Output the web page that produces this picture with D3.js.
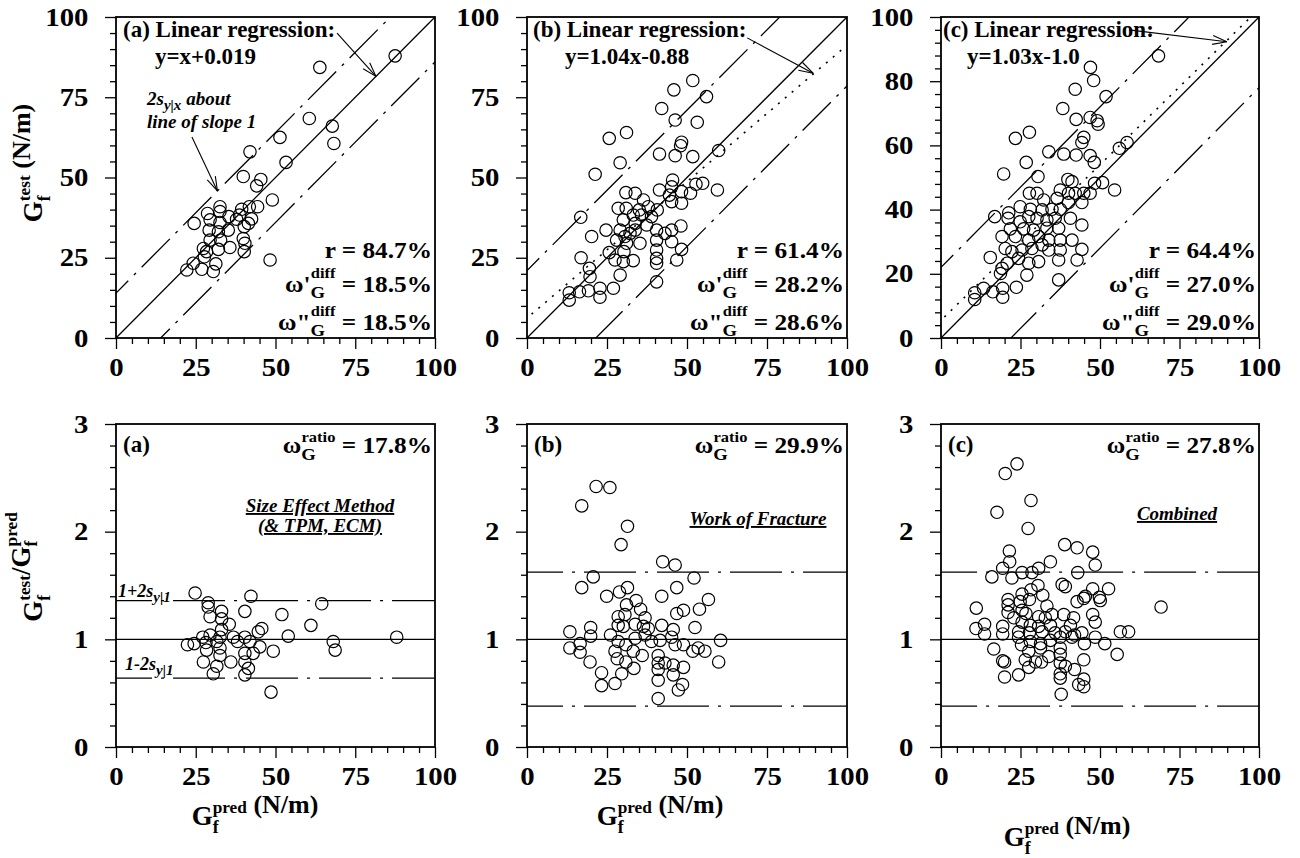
<!DOCTYPE html>
<html>
<head>
<meta charset="utf-8">
<script src="https://cdn.jsdelivr.net/npm/d3@7"></script>
<style>
body { margin: 0; background: #fff; }
text { font-family: "Liberation Serif", "Times New Roman", serif; font-weight: bold; fill: #000; }
</style>
</head>
<body>
<script>
// values
// top row: G_test vs G_pred (N/m)
var diffA = [[87.5,87.9],[63.9,84.3],[60.6,68.4],[67.8,66.0],[68.3,60.6],[51.4,62.5],[42.0,58.0],[53.3,54.7],[39.9,50.3],[45.4,49.4],[44.1,47.4],[49.0,43.0],[24.5,35.7],[28.7,38.8],[32.6,40.9],[32.6,39.4],[35.4,37.8],[37.8,37.0],[39.4,40.1],[41.8,40.9],[44.4,40.9],[42.5,37.1],[29.5,36.8],[29.2,33.6],[32.6,36.0],[32.1,33.1],[35.2,33.6],[40.2,34.7],[39.9,31.0],[40.4,29.5],[29.5,30.5],[32.8,30.5],[27.4,27.9],[28.4,26.9],[32.1,27.6],[35.7,28.2],[27.7,25.3],[40.2,26.9],[24.2,23.3],[22.2,21.2],[26.9,21.4],[30.5,20.7],[31.3,23.1],[48.3,24.3],[41.5,35.7],[38.7,38.3]];

var diffB = [[51.8,80.2],[45.9,77.3],[56.1,75.2],[42.1,71.5],[46.3,67.9],[53.2,67.2],[31.1,64.0],[25.7,62.2],[48.3,61.0],[48.0,59.9],[59.9,58.4],[41.4,57.3],[46.3,56.8],[51.8,56.5],[29.1,54.6],[21.3,51.0],[45.5,49.2],[41.4,46.1],[45.2,47.1],[48.3,45.6],[51.1,45.1],[52.8,47.9],[54.9,48.2],[59.5,46.1],[44.5,44.5],[45.2,42.5],[48.3,42.0],[30.9,45.3],[33.8,45.1],[36.4,43.0],[37.9,40.9],[35.1,39.9],[40.7,39.9],[28.5,40.4],[31.0,40.4],[33.2,38.3],[35.8,38.3],[38.9,37.8],[30.1,36.8],[33.8,35.7],[29.1,33.6],[32.2,32.6],[33.8,33.6],[37.4,35.2],[24.7,33.6],[20.2,31.6],[28.0,30.5],[31.1,29.5],[35.3,29.5],[40.5,33.6],[40.5,30.5],[40.5,27.4],[40.5,24.8],[40.5,23.3],[45.2,33.6],[48.1,34.9],[45.2,30.0],[48.3,27.6],[46.8,24.3],[43.1,32.6],[25.7,26.6],[27.5,24.3],[30.1,23.8],[33.2,24.1],[30.3,26.9],[29.1,19.6],[27.0,15.5],[22.8,15.5],[22.8,12.7],[19.5,21.7],[19.7,19.1],[19.2,14.7],[16.9,25.0],[16.8,37.6],[16.4,14.4],[13.2,14.1],[13.2,11.8],[40.5,17.5],[30.6,31.6]];

var diffC = [[68.4,87.9],[47.0,84.3],[48.0,80.2],[42.2,77.5],[51.9,75.2],[38.3,71.5],[42.5,68.1],[46.9,68.7],[49.1,67.7],[49.4,66.6],[23.4,62.2],[27.8,64.1],[44.9,62.5],[44.3,60.9],[58.5,60.9],[56.1,59.1],[33.9,58.0],[38.6,57.3],[42.5,57.0],[46.9,56.8],[48.2,54.7],[26.8,54.7],[19.7,51.1],[30.5,50.3],[39.9,49.4],[41.2,48.7],[48.3,48.2],[50.8,48.4],[54.6,46.1],[37.5,46.1],[40.1,45.1],[42.2,45.1],[44.9,45.1],[46.9,45.1],[27.8,45.1],[30.2,45.1],[32.3,43.0],[36.5,43.5],[40.1,42.2],[44.3,42.2],[21.3,39.0],[24.9,40.9],[28.1,40.1],[31.8,39.9],[34.9,40.1],[37.5,40.1],[16.9,37.8],[21.1,37.3],[24.9,36.2],[27.6,37.8],[30.2,37.3],[33.3,36.8],[35.9,37.3],[40.7,37.3],[44.3,35.2],[21.8,34.0],[26.0,34.0],[29.1,33.6],[33.3,34.2],[37.0,34.2],[19.2,31.6],[23.4,31.6],[27.6,30.5],[30.7,31.6],[33.9,30.5],[37.5,30.5],[41.2,30.5],[20.2,27.9],[22.3,26.9],[25.5,27.4],[28.6,27.9],[31.8,29.0],[33.9,27.4],[37.5,27.4],[44.3,27.6],[15.5,25.1],[24.4,24.8],[27.6,23.3],[30.7,23.8],[37.0,24.3],[42.8,24.3],[19.2,21.7],[27.0,19.6],[37.0,18.1],[18.7,20.1],[13.4,15.5],[16.3,14.4],[10.6,14.1],[10.6,12.0],[19.4,15.5],[19.4,12.7],[23.7,15.8],[20.8,23.3]];

// bottom row: G_test / G_pred vs G_pred
var ratioA = [[24.8,1.43],[28.9,1.34],[28.9,1.30],[29.5,1.21],[33.1,1.26],[33.1,1.19],[40.4,1.26],[42.3,1.40],[52.0,1.23],[64.5,1.33],[61.1,1.13],[45.7,1.10],[44.6,1.07],[54.0,1.03],[68.1,0.98],[68.7,0.90],[88.0,1.02],[49.3,0.89],[48.6,0.51],[22.4,0.95],[24.5,0.96],[27.2,1.02],[28.2,0.97],[28.4,0.90],[31.6,0.98],[32.6,0.92],[35.5,1.14],[33.1,1.09],[32.6,1.02],[36.8,1.02],[38.1,0.98],[40.4,1.02],[42.0,0.98],[45.1,0.93],[43.0,0.87],[40.4,0.87],[40.4,0.79],[41.5,0.73],[40.4,0.67],[36.0,0.79],[27.4,0.79],[31.6,0.75],[30.5,0.68],[32.6,0.85],[29.5,1.04]];

var ratioB = [[21.6,2.42],[25.9,2.41],[17.1,2.24],[31.4,2.05],[29.4,1.88],[42.4,1.72],[46.3,1.69],[20.7,1.58],[52.2,1.57],[17.1,1.48],[31.4,1.48],[28.9,1.44],[46.8,1.48],[24.9,1.40],[42.1,1.40],[56.7,1.37],[31.1,1.32],[34.1,1.36],[35.5,1.28],[48.9,1.27],[46.8,1.24],[53.9,1.28],[36.9,1.20],[28.5,1.21],[30.6,1.23],[28.5,1.13],[30.1,1.12],[33.8,1.14],[36.4,1.12],[37.9,1.10],[42.1,1.13],[45.7,1.09],[52.5,1.11],[13.4,1.07],[19.9,1.11],[19.9,1.03],[26.1,1.04],[28.5,0.98],[30.9,0.95],[33.8,1.01],[36.9,1.04],[38.9,0.98],[41.6,0.99],[45.2,1.02],[46.3,0.95],[48.9,0.95],[53.5,0.92],[60.5,0.99],[13.4,0.92],[16.6,0.96],[16.6,0.88],[27.5,0.89],[28.2,0.82],[30.9,0.79],[33.2,0.89],[36.0,0.85],[33.4,0.73],[29.6,0.68],[41.0,0.85],[41.0,0.78],[41.0,0.72],[41.0,0.62],[41.0,0.45],[43.1,0.78],[45.7,0.76],[48.9,0.74],[45.7,0.67],[48.6,0.58],[47.3,0.53],[51.8,0.89],[55.6,0.89],[59.9,0.79],[19.7,0.79],[23.3,0.69],[23.3,0.57],[27.5,0.59]];

var ratioC = [[23.9,2.63],[20.2,2.54],[28.3,2.29],[17.6,2.18],[27.4,2.03],[38.9,1.88],[42.8,1.85],[47.7,1.81],[21.5,1.82],[21.6,1.72],[34.4,1.72],[48.5,1.69],[19.4,1.66],[30.7,1.66],[25.5,1.62],[28.6,1.62],[43.0,1.62],[16.0,1.58],[22.3,1.57],[30.5,1.50],[38.1,1.51],[39.1,1.49],[47.7,1.47],[52.7,1.47],[25.5,1.42],[28.3,1.46],[32.0,1.41],[21.1,1.37],[21.1,1.32],[21.1,1.25],[24.9,1.35],[27.8,1.37],[25.5,1.27],[26.7,1.24],[33.3,1.31],[42.8,1.35],[44.9,1.38],[45.4,1.40],[49.8,1.39],[50.1,1.36],[47.7,1.23],[48.5,1.16],[11.1,1.29],[69.2,1.30],[22.9,1.20],[30.7,1.21],[32.8,1.20],[34.9,1.23],[38.6,1.23],[41.7,1.20],[25.5,1.16],[28.1,1.13],[30.7,1.12],[34.4,1.13],[40.7,1.13],[13.7,1.14],[11.0,1.10],[13.7,1.05],[19.4,1.12],[19.4,1.05],[24.4,1.07],[27.8,1.06],[31.8,1.07],[35.9,1.06],[39.1,1.07],[42.0,1.04],[44.3,1.06],[56.4,1.07],[59.0,1.07],[24.4,1.02],[28.1,0.98],[31.3,0.96],[34.4,0.99],[37.5,1.02],[41.2,1.02],[45.1,0.96],[48.5,1.02],[51.5,0.96],[16.6,0.91],[25.3,0.95],[27.6,0.89],[31.3,0.92],[33.9,0.84],[37.5,0.92],[37.5,0.86],[55.4,0.86],[26.5,0.81],[29.7,0.79],[31.6,0.79],[19.4,0.80],[20.0,0.79],[37.5,0.78],[37.5,0.68],[37.5,0.64],[39.1,0.75],[42.0,0.72],[44.9,0.81],[27.6,0.74],[24.4,0.67],[20.0,0.65],[44.9,0.63],[43.3,0.58],[44.9,0.56],[37.8,0.49]];

// band offsets (2s about slope 1) and dotted regression lines, top row
var bandHi = [14, 21, 22];
var bandLo = [-14, -21.5, -22];
var regSlope = [null, 0.85, 0.97];
var regIcpt = [null, 6.2, 5.5];
// ratio bands, bottom row
var ratioHi = [1.36, 1.625, 1.625];
var ratioLo = [0.64, 0.38, 0.38];

var panelTag = ["(a)", "(b)", "(c)"];
var regEq = ["y=x+0.019", "y=1.04x-0.88", "y=1.03x-1.0"];
var statR = ["84.7%", "61.4%", "64.4%"];
var statW1 = ["18.5%", "28.2%", "27.0%"];
var statW2 = ["18.5%", "28.6%", "29.0%"];
var statRatio = ["17.8%", "29.9%", "27.8%"];
var methodName = [["Size Effect Method", "(& TPM, ECM)"], ["Work of Fracture"], ["Combined"]];

var xTicks = [0, 25, 50, 75, 100];
var yTicksTop = [[0, 25, 50, 75, 100], [0, 25, 50, 75, 100], [0, 20, 40, 60, 80, 100]];
var yMinorStep = [5, 5, 4];
var yTicksBot = [0, 1, 2, 3];

// layout
var W = 1300, H = 858;
var cols = [[116, 435], [527, 847], [941, 1259]];
var rowTop = [17, 338], rowBot = [424, 747];
var SX = 1.15; // figure text is a bit wider than normal Times

var svg = d3.select("body").append("svg").attr("width", W).attr("height", H);

function txt(x, y, size, anchor, sx, italic, rot) {
  var tr = "translate(" + x + "," + y + ")";
  if (rot) tr += " rotate(" + rot + ")";
  if (sx) tr += " scale(" + sx + ",1)";
  return svg.append("text")
    .attr("transform", tr)
    .attr("text-anchor", anchor || "start")
    .style("font-size", size + "px")
    .style("font-style", italic ? "italic" : null);
}

// G with subscript f and stacked superscript
function gf(t, sup, size) {
  t.append("tspan").style("font-size", size + "px").text("G");
  t.append("tspan").attr("dy", size * 0.28).style("font-size", (size * 0.66) + "px").text("f");
  t.append("tspan").attr("dx", -size * 0.66 * 0.333).attr("dy", -size * 0.74).style("font-size", (size * 0.64) + "px").text(sup);
  t.append("tspan").attr("dy", size * 0.46).text("");
}

function clean(g) {
  g.select(".domain").remove();
  g.selectAll(".tick line").attr("stroke", "#000").attr("stroke-width", 1.3);
}

function axes(p, yMajor, yMinor, yFmt) {
  var xMinor = d3.range(0, 101, 5).filter(function(v){ return v % 25; });
  svg.append("g").attr("transform", "translate(0," + p.B + ")")
    .call(d3.axisBottom(p.x).tickValues(xMinor).tickSize(6).tickFormat("")).call(clean);
  var gx = svg.append("g").attr("transform", "translate(0," + p.B + ")")
    .call(d3.axisBottom(p.x).tickValues(xTicks).tickSize(11).tickPadding(9).tickFormat(d3.format("d"))).call(clean);
  gx.selectAll("text").style("font-size", "25px").attr("transform", "scale(" + SX + ",1)");

  svg.append("g").attr("transform", "translate(" + p.L + ",0)")
    .call(d3.axisLeft(p.y).tickValues(yMinor).tickSize(6).tickFormat("")).call(clean);
  var gy = svg.append("g").attr("transform", "translate(" + p.L + ",0)")
    .call(d3.axisLeft(p.y).tickValues(yMajor).tickSize(11).tickPadding(13).tickFormat(yFmt)).call(clean);
  gy.selectAll("text").style("font-size", "25px").attr("transform", "scale(" + SX + ",1)");

  svg.append("rect").attr("x", p.L).attr("y", p.T).attr("width", p.R - p.L).attr("height", p.B - p.T)
    .attr("fill", "none").attr("stroke", "#000").attr("stroke-width", 1.8);
}

function clipFor(p, id) {
  svg.append("clipPath").attr("id", id).append("rect")
    .attr("x", p.L).attr("y", p.T).attr("width", p.R - p.L).attr("height", p.B - p.T);
  return "url(#" + id + ")";
}

function seg(g, p, f, dash, w) {
  var xs = [-5, 105];
  g.append("path")
    .attr("d", d3.line().x(function(v){ return p.x(v); }).y(function(v){ return p.y(f(v)); })(xs))
    .attr("fill", "none").attr("stroke", "#000").attr("stroke-width", w || 1.3)
    .attr("stroke-dasharray", dash || null);
}

function arrow(p, from, to) {
  var x1 = p.x(from[0]), y1 = p.y(from[1]), x2 = p.x(to[0]), y2 = p.y(to[1]);
  svg.append("line").attr("x1", x1).attr("y1", y1).attr("x2", x2).attr("y2", y2)
    .attr("stroke", "#000").attr("stroke-width", 1.1);
  var a = Math.atan2(y1 - y2, x1 - x2), L = 15, s = 0.3;
  [a - s, a + s].forEach(function(b){
    svg.append("line").attr("x1", x2).attr("y1", y2)
      .attr("x2", x2 + L * Math.cos(b)).attr("y2", y2 + L * Math.sin(b))
      .attr("stroke", "#000").attr("stroke-width", 1.1);
  });
}

function dots(p, data) {
  svg.append("g").selectAll("circle").data(data).enter().append("circle")
    .attr("cx", function(d){ return p.x(d[0]); })
    .attr("cy", function(d){ return p.y(d[1]); })
    .attr("r", 6.2)
    .attr("fill", "none").attr("stroke", "#000").attr("stroke-width", 1.2);
}

function omega(p, baseline, prime, sub, sup, value) {
  var t = txt(p.R - 3, baseline, 23, "end", 1.1);
  t.append("tspan").text("\u03c9" + prime);
  t.append("tspan").attr("dy", 6).style("font-size", "17px").text(sub);
  t.append("tspan").attr("dx", -13).attr("dy", -20).style("font-size", "15px").text(sup);
  t.append("tspan").attr("dy", 14).text(" = " + value);
}

var dashDotTop = "40,8,3,8";
var dashDotBot = "52,9,3,9";
var diffData = [diffA, diffB, diffC];
var ratioData = [ratioA, ratioB, ratioC];

// ---------- top row ----------
[0, 1, 2].forEach(function(i) {
  var p = {
    x: d3.scaleLinear().domain([0, 100]).range(cols[i]),
    y: d3.scaleLinear().domain([0, 100]).range([rowTop[1], rowTop[0]]),
    L: cols[i][0], R: cols[i][1], T: rowTop[0], B: rowTop[1]
  };
  var minor = d3.range(0, 101, yMinorStep[i]).filter(function(v){ return yTicksTop[i].indexOf(v) < 0; });
  axes(p, yTicksTop[i], minor, d3.format("d"));

  var g = svg.append("g").attr("clip-path", clipFor(p, "ct" + i));
  seg(g, p, function(v){ return v; });
  seg(g, p, function(v){ return v + bandHi[i]; }, dashDotTop);
  seg(g, p, function(v){ return v + bandLo[i]; }, dashDotTop);
  if (regSlope[i] !== null) seg(g, p, function(v){ return regSlope[i] * v + regIcpt[i]; }, "2,7", 1.6);

  dots(p, diffData[i]);

  var tx = [7, 6, 2][i];
  txt(p.L + tx, p.T + 20, 23).text(panelTag[i] + " Linear regression:");
  txt(p.L + [39, 38, 26][i], p.T + 47, 23).text(regEq[i]);

  txt(p.R - 3, p.B - 80, 23, "end", 1.1).text("r = " + statR[i]);
  omega(p, p.B - 46, "'", "G", "diff", statW1[i]);
  omega(p, p.B - 8, "\"", "G", "diff", statW2[i]);
});

// annotation arrows, top row (data coords)
(function() {
  var pa = { x: d3.scaleLinear().domain([0, 100]).range(cols[0]), y: d3.scaleLinear().domain([0, 100]).range([rowTop[1], rowTop[0]]) };
  var pb = { x: d3.scaleLinear().domain([0, 100]).range(cols[1]), y: pa.y };
  var pc = { x: d3.scaleLinear().domain([0, 100]).range(cols[2]), y: pa.y };
  arrow(pa, [69.3, 95.0], [81.5, 81.5]);
  arrow(pa, [23.8, 62.6], [31.8, 45.8]);
  arrow(pb, [68.8, 93.5], [89.4, 82.5]);
  arrow(pc, [59.1, 96.0], [89.9, 92.3]);

  var t1 = txt(147, 105, 19, "start", 1, true);
  t1.append("tspan").text("2s");
  t1.append("tspan").attr("dy", 5).style("font-size", "15px").text("y|x");
  t1.append("tspan").attr("dy", -5).text(" about");
  txt(147, 128, 19, "start", 1, true).text("line of slope 1");
})();

// ---------- bottom row ----------
[0, 1, 2].forEach(function(i) {
  var p = {
    x: d3.scaleLinear().domain([0, 100]).range(cols[i]),
    y: d3.scaleLinear().domain([0, 3]).range([rowBot[1], rowBot[0]]),
    L: cols[i][0], R: cols[i][1], T: rowBot[0], B: rowBot[1]
  };
  var minor = d3.range(0, 3.01, 0.2).filter(function(v){ return Math.abs(v - Math.round(v)) > 0.01; });
  axes(p, yTicksBot, minor, d3.format("d"));

  var g = svg.append("g").attr("clip-path", clipFor(p, "cb" + i));
  seg(g, p, function(){ return 1; }, null, 1.1);
  seg(g, p, function(){ return ratioHi[i]; }, dashDotBot);
  seg(g, p, function(){ return ratioLo[i]; }, dashDotBot);

  dots(p, ratioData[i]);

  txt(p.L + 7, p.T + 28, 23).text(panelTag[i]);
  var t = txt(p.R - 3, p.T + 29, 23, "end", 1.1);
  t.append("tspan").text("\u03c9");
  t.append("tspan").attr("dy", 7).style("font-size", "17px").text("G");
  t.append("tspan").attr("dx", -13).attr("dy", -18).style("font-size", "15px").text("ratio");
  t.append("tspan").attr("dy", 11).text(" = " + statRatio[i]);

  var cx = [320, 758, 1177][i], by = [512, 525, 520][i];
  methodName[i].forEach(function(s, k) {
    txt(cx, by + k * 20, 19, "middle", 1, true).attr("text-decoration", "underline").text(s);
  });

  if (i === 0) {
    var a1 = txt(p.L + 2, p.y(ratioHi[i]) - 4, 18, "start", 1, true);
    a1.append("tspan").text("1+2s");
    a1.append("tspan").attr("dy", 5).style("font-size", "15px").text("y|1");
    var a2 = txt(p.L + 9, p.y(ratioLo[i]) - 8, 18, "start", 1, true);
    a2.append("tspan").text("1-2s");
    a2.append("tspan").attr("dy", 5).style("font-size", "15px").text("y|1");
  }
});

// ---------- axis titles ----------
var yt1 = txt(42, 163, 27, "middle", 1, false, -90);
gf(yt1, "test", 27);
yt1.append("tspan").style("font-size", "26px").text(" (N/m)");

var yt2 = txt(42, 567, 27, "middle", 1, false, -90);
gf(yt2, "test", 27);
yt2.append("tspan").style("font-size", "27px").text("/");
gf(yt2, "pred", 27);

[[255, 825], [660, 825], [1067, 846]].forEach(function(pos) {
  var t = txt(pos[0], pos[1], 27, "middle");
  gf(t, "pred", 27);
  t.append("tspan").style("font-size", "26px").text(" (N/m)");
});
</script>
</body>
</html>
